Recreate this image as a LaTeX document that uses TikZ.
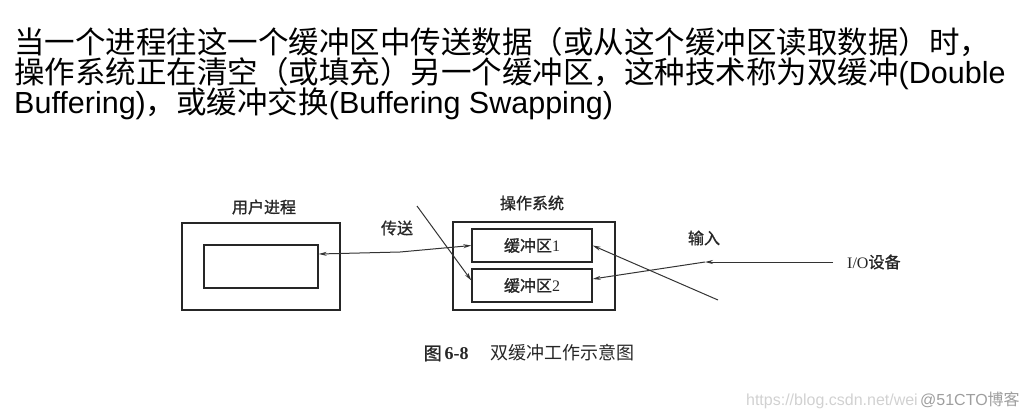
\documentclass[tikz,border=0pt]{standalone}
\usepackage{fontspec}
\setmainfont{Liberation Sans}
\newfontfamily\cjk{Noto Sans CJK SC}
\newfontfamily\cjkb[FakeBold=1.2]{Noto Sans CJK SC}
\newfontfamily\tnr{Liberation Serif}
\usetikzlibrary{arrows.meta}

\begin{document}
\begin{tikzpicture}[x=1pt,y=-1pt,
  txt/.style={anchor=base west, inner sep=0,
    font=\fontsize{30.5}{30.5}\selectfont},
  box/.style={draw=black!85, line width=1.7pt},
  buf/.style={draw=black!85, line width=1.3pt, minimum width=120,
    minimum height=33, text=black!85, font=\fontsize{16}{16}\selectfont},
  lbl/.style={text=black!85, font=\fontsize{16}{16}\selectfont},
  arr/.style={draw=black!80, line width=1pt,
    -{Stealth[length=8pt,width=4pt]}}]
\useasboundingbox (0,0) rectangle (1028,416);
% text above the figure
\node[txt] (line1) at (14,53)
  {\cjk 当一个进程往这一个缓冲区中传送数据（或从这个缓冲区读取数据）时，};
\node[txt] (line2) at (14,83)
  {{\cjk 操作系统正在清空（或填充）另一个缓冲区，这种技术称为双缓冲}(Double};
\node[txt] (line3) at (14,113)
  {Buffering){\cjk ，或缓冲交换}(Buffering Swapping)};
% user process
\node[box, minimum width=158, minimum height=87] (user) at (261,266.5) {};
\node[box, line width=1.3pt, minimum width=114, minimum height=43]
  (uproc) at (261,266.5) {};
\node[lbl] (userlbl) at (264,207) {\cjkb 用户进程};
% operating system
\node[box, minimum width=162, minimum height=88] (os) at (534,266) {};
\node[lbl] (oslbl) at (532,203) {\cjkb 操作系统};
\node[buf] (buf1) at (532,245.5) {{\cjkb 缓冲区}{\tnr 1}};
\node[buf] (buf2) at (532,285.5) {{\cjkb 缓冲区}{\tnr 2}};
% transfer side
\node[lbl] (send) at (397,228) {\cjkb 传送};
\coordinate (bend) at (400,252);
\coordinate (sw1) at (417,206);
\draw[arr, {Stealth[length=8pt,width=4pt]}-{Stealth[length=8pt,width=4pt]}]
  ([yshift=12.5pt]uproc.east) -- (bend) -- (buf1.west);
\draw[arr] (sw1) -- ([yshift=5pt]buf2.west);
% input side
\node[lbl] (inlbl) at (704,238) {\cjkb 输入};
\node[lbl, anchor=west, inner xsep=14pt] (io) at (833,262)
  {{\tnr I/O}{\cjkb 设备}};
\coordinate (inpt) at (705,262);
\coordinate (sw2) at (718,300);
\draw[arr] (io.west) -- (inpt);
\draw[arr] (inpt) -- ([yshift=6.5pt]buf2.east);
\draw[arr] (sw2) -- (buf1.east);
% caption
\node[lbl, font=\fontsize{18}{18}\selectfont] (cap) at (529,353)
  {{\cjkb 图}\,{\tnr\bfseries 6-8}\hspace{1.2em}{\cjk 双缓冲工作示意图}};
% watermark
\node[anchor=base east, inner sep=0, text=black!18,
  font=\fontsize{16}{16}\selectfont] (url) at (918,405)
  {https://blog.csdn.net/wei};
\node[anchor=base west, inner sep=0, text=black!38,
  font=\fontsize{16}{16}\selectfont] (mark) at (920,405)
  {@51CTO{\cjk 博客}};
\end{tikzpicture}
\end{document}
